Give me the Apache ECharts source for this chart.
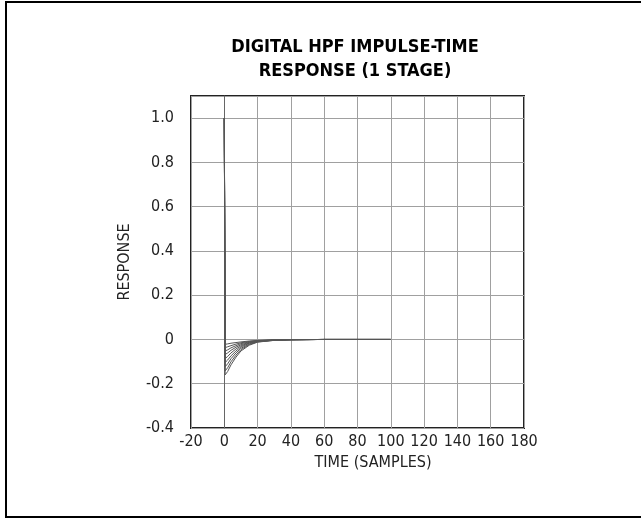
<!DOCTYPE html>
<html>
<head>
<meta charset="utf-8">
<title>Digital HPF impulse-time response</title>
<script src="https://cdn.jsdelivr.net/npm/echarts@6/dist/echarts.min.js"></script>
<style>
  html, body { margin: 0; padding: 0; background: #fff; }
  #chart { width: 641px; height: 518px; }
</style>
</head>
<body>
<div id="chart"></div>
<script>
// sample positions (time, samples) shared by all curves
const sampleX = [0, 0.5, 2, 4, 7, 10, 15, 20, 30, 40, 60, 100];

// family of responses, deepest first
const curve1 = [1.0, -0.160, -0.145, -0.115, -0.080, -0.052, -0.026, -0.012, -0.004, -0.001, 0, 0];
const curve2 = [1.0, -0.142, -0.128, -0.101, -0.071, -0.046, -0.023, -0.011, -0.004, -0.001, 0, 0];
const curve3 = [1.0, -0.123, -0.110, -0.087, -0.061, -0.040, -0.020, -0.010, -0.003, -0.001, 0, 0];
const curve4 = [1.0, -0.104, -0.093, -0.074, -0.052, -0.034, -0.017, -0.009, -0.003, -0.001, 0, 0];
const curve5 = [1.0, -0.086, -0.077, -0.061, -0.043, -0.029, -0.015, -0.008, -0.003, -0.001, 0, 0];
const curve6 = [1.0, -0.068, -0.061, -0.049, -0.035, -0.024, -0.013, -0.007, -0.002, -0.001, 0, 0];
const curve7 = [1.0, -0.052, -0.047, -0.038, -0.028, -0.019, -0.011, -0.006, -0.002, -0.001, 0, 0];
const curve8 = [1.0, -0.037, -0.033, -0.028, -0.021, -0.015, -0.009, -0.005, -0.002, -0.001, 0, 0];
const curve9 = [1.0, -0.022, -0.020, -0.017, -0.014, -0.011, -0.007, -0.004, -0.002, -0.001, 0, 0];
const curves = [curve1, curve2, curve3, curve4, curve5, curve6, curve7, curve8, curve9];

const xTicks = { min: -20, max: 180, step: 20 };
const yTicks = { min: -0.4, max: 1.1, step: 0.2 };

const font = '"Liberation Sans Narrow", "DejaVu Sans Condensed", "Liberation Sans", sans-serif';

const chart = echarts.init(document.getElementById("chart"));

const option = {
  animation: false,
  backgroundColor: "#fff",
  grid: {
    left: 191,
    top: 96,
    right: 117,
    bottom: 90,
    show: true,
    borderColor: "#222",
    borderWidth: 2,
  },
  xAxis: {
    type: "value",
    min: xTicks.min,
    max: xTicks.max,
    interval: xTicks.step,
    name: "TIME (SAMPLES)",
    nameLocation: "middle",
    nameGap: 27,
    nameTextStyle: { fontFamily: font, fontSize: 16, color: "#222", padding: [0, 0, 0, 31] },
    axisLine: { show: false },
    axisTick: { show: false },
    axisLabel: { fontFamily: font, fontSize: 16, color: "#222", margin: 6 },
    splitLine: { lineStyle: { color: "#a0a0a0", width: 1 } },
  },
  yAxis: {
    type: "value",
    min: yTicks.min,
    max: yTicks.max,
    interval: yTicks.step,
    name: "RESPONSE",
    nameLocation: "middle",
    nameGap: 58,
    nameTextStyle: { fontFamily: font, fontSize: 16, color: "#222" },
    // darker vertical line at t = 0
    axisLine: { show: true, onZero: true, lineStyle: { color: "#666", width: 1 } },
    axisTick: { show: false },
    axisLabel: {
      fontFamily: font,
      fontSize: 16,
      color: "#222",
      margin: 17,
      formatter: function (v) {
        if (v > 1.05) return "";
        if (Math.abs(v) < 1e-9) return "0";
        return v.toFixed(1);
      },
    },
    splitLine: { lineStyle: { color: "#a0a0a0", width: 1 } },
  },
  graphic: [
    {
      type: "rect",
      shape: { x: 6, y: 2, width: 640, height: 515 },
      style: { fill: "none", stroke: "#000", lineWidth: 2 },
      silent: true,
    },
    {
      type: "text",
      x: 355,
      y: 35,
      style: {
        text: "DIGITAL HPF IMPULSE-TIME\nRESPONSE (1 STAGE)",
        font: "bold 18px " + font,
        fill: "#000",
        align: "center",
        verticalAlign: "top",
        lineHeight: 24,
      },
    },
  ],
  series: curves.map(function (c) {
    return {
      type: "line",
      showSymbol: false,
      data: sampleX.map(function (x, i) { return [x, c[i]]; }),
      lineStyle: { color: "#555", width: 1 },
      z: 3,
    };
  }),
};

chart.setOption(option);
window.addEventListener("resize", function () {
  chart.resize();
});
</script>
</body>
</html>
